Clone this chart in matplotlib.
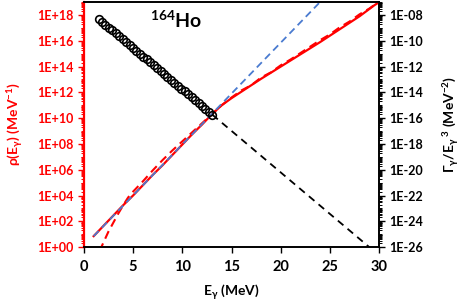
import numpy as np
import matplotlib
matplotlib.use("Agg")
import matplotlib.pyplot as plt
from matplotlib.ticker import LogLocator, FuncFormatter, NullFormatter

plt.rcParams['font.family'] = ['Lato', 'DejaVu Sans']
plt.rcParams['font.weight'] = 'bold'
plt.rcParams['mathtext.fontset'] = 'custom'
plt.rcParams['mathtext.rm'] = 'Lato:bold'
plt.rcParams['mathtext.bf'] = 'Lato:bold'
plt.rcParams['mathtext.it'] = 'Lato:bold'

# level density, solid red (log10 values, left axis)
rho_x = [1.0, 2, 3, 4, 5, 6, 7, 8, 9, 10, 11, 12, 13, 14, 15, 16, 18, 20, 22, 24, 26, 28, 29.5, 30]
rho_log = [0.85, 1.65, 2.45, 3.25, 4.0, 4.8, 5.6, 6.35, 7.15, 7.95, 8.75, 9.5, 10.3,
           11.0, 11.55, 12.05, 13.05, 14.0, 14.95, 15.9, 16.9, 17.9, 18.75, 19.0]

# level density, dashed red
rhod_x = [1.6, 2.5, 3.0, 3.5, 4.0, 4.5, 5.0, 6.0, 7.0, 8.0, 9.0, 10.0, 11.0, 12.0, 13.0,
          14.0, 15.0, 16.0, 17.0, 18.0, 19.0, 20.0, 21.0, 22.0, 23.0, 24.0, 25.0, 26.0,
          27.0, 28.0, 29.0, 30.0]
rhod_log = [-0.3, 1.2, 1.9, 2.6, 3.25, 3.85, 4.3, 5.1, 5.95, 6.75, 7.5, 8.2, 8.9, 9.6, 10.3,
            11.0, 11.6, 12.15, 12.55, 13.15, 13.55, 14.1, 14.55, 15.05, 15.55, 16.05, 16.5, 17.05,
            17.5, 18.05, 18.5, 19.05]

# constant temperature extrapolation, blue dashed
ct_x = [1.0, 25.0]
ct_log = [0.85, 19.8]

# strength function points (right axis)
gam_x = [1.50, 1.85, 2.20, 2.55, 2.90, 3.25, 3.60, 3.95, 4.30, 4.65, 5.00, 5.35,
         5.70, 6.05, 6.40, 6.75, 7.10, 7.45, 7.80, 8.15, 8.50, 8.85, 9.20, 9.55,
         9.90, 10.25, 10.60, 10.95, 11.30, 11.65, 12.00, 12.35, 12.70, 13.05]
gam_log = [-8.30, -8.53, -8.75, -8.98, -9.20, -9.43, -9.65, -9.88, -10.10, -10.33,
           -10.55, -10.78, -11.00, -11.23, -11.45, -11.68, -11.90, -12.13, -12.35,
           -12.58, -12.80, -13.03, -13.25, -13.48, -13.70, -13.93, -14.15, -14.38,
           -14.60, -14.83, -15.05, -15.28, -15.50, -15.73]

# extrapolation, black dashed
ext_x = [13.05, 30.0]
ext_log = [-15.73, -26.65]

fig = plt.figure(figsize=(4.63, 3.01), dpi=100)
ax = fig.add_axes([0.181, 0.179, 0.638, 0.814])
ax2 = ax.twinx()

ax.plot(rho_x, 10.0 ** np.array(rho_log), color='red', lw=1.6, zorder=3)
ax.plot(rhod_x, 10.0 ** np.array(rhod_log), color='red', lw=1.5, ls=(0, (4, 2.5)), zorder=3)
ax.plot(ct_x, 10.0 ** np.array(ct_log), color='#4a7bd0', lw=1.3, ls=(0, (4, 2.5)), zorder=4)

ax2.plot(ext_x, 10.0 ** np.array(ext_log), color='black', lw=1.3, ls=(0, (4, 3)))
ax2.plot(gam_x, 10.0 ** np.array(gam_log), ls='none', marker='o', ms=5.5, mfc='none',
         mec='black', mew=1.2)

ax.set_xlim(0, 30)
ax.set_yscale('log')
ax.set_ylim(1, 1e19)
ax2.set_yscale('log')
ax2.set_ylim(1e-26, 1e-7)

fmt = FuncFormatter(lambda v, p: "1E{:+03d}".format(int(round(np.log10(v)))))
for a, lo, hi in [(ax, 0, 19), (ax2, -26, -7)]:
    a.set_yticks([10.0 ** e for e in range(lo, hi, 2)])
    a.yaxis.set_major_formatter(fmt)
    a.yaxis.set_minor_locator(LogLocator(base=10, subs=np.arange(1, 10), numticks=100))
    a.yaxis.set_minor_formatter(NullFormatter())

ax.set_xticks([0, 5, 10, 15, 20, 25, 30])
ax.tick_params(axis='x', labelsize=10.5, length=4, width=1, direction='out', pad=5)
ax.tick_params(axis='y', which='major', labelsize=9, length=4, width=1,
               colors='red', labelcolor='red')
ax.tick_params(axis='y', which='minor', length=2.5, width=0.7, colors='red')
ax2.tick_params(axis='y', which='major', labelsize=9, length=4, width=1)
ax2.tick_params(axis='y', which='minor', length=2.5, width=0.7)

ax.spines['left'].set_color('red')
ax.spines['left'].set_linewidth(1.6)
ax2.spines['left'].set_visible(False)
for s in ['top', 'right', 'bottom']:
    ax2.spines[s].set_linewidth(1.2)
    ax.spines[s].set_linewidth(1.2)

ax.set_xlabel(r"E$_\mathbf{γ}$ (MeV)", fontsize=10, fontweight='bold', labelpad=6)
ax.set_ylabel(r"ρ(E$_\mathbf{γ}$) (MeV$^\mathbf{-1}$)", fontsize=10, fontweight='bold',
              color='red', labelpad=8)
ax2.set_ylabel(r"Γ$_\mathbf{γ}$/E$_\mathbf{γ}$$^\mathbf{\ 3}$ (MeV$^\mathbf{-2}$)",
               fontsize=10, fontweight='bold', labelpad=13)

ax.text(0.225, 0.925, r"$^\mathbf{164}$Ho", transform=ax.transAxes, fontsize=14,
        fontweight='bold', ha='left', va='center')

fig.savefig('out.png', dpi=100)
